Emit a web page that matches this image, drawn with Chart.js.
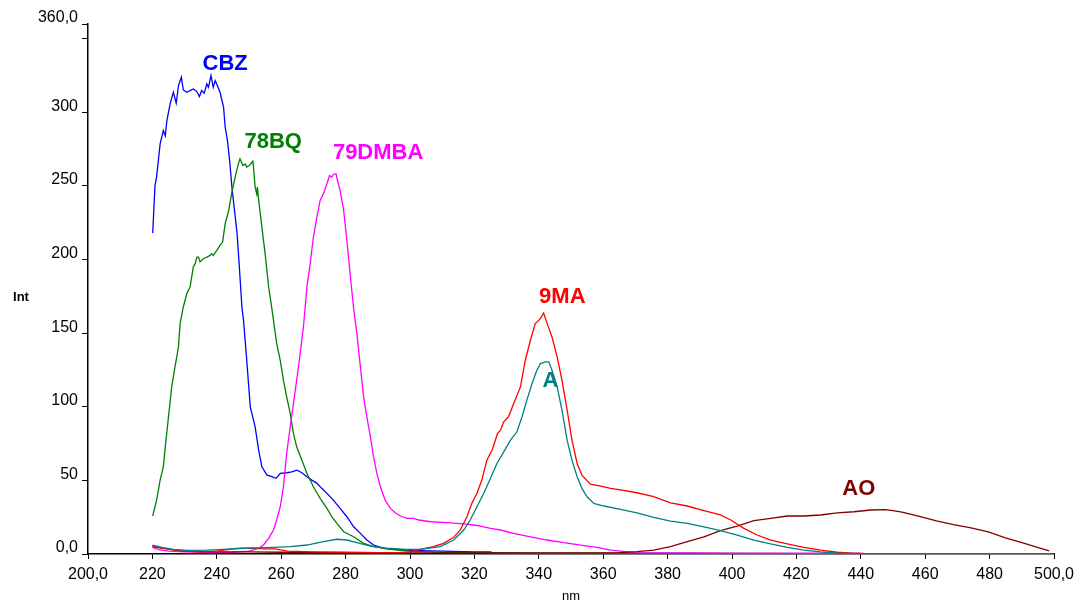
<!DOCTYPE html>
<html>
<head>
<meta charset="utf-8">
<script src="https://cdn.jsdelivr.net/npm/chart.js@4/dist/chart.umd.min.js"></script>
<style>
  html, body { margin: 0; padding: 0; background: #fff; }
  #wrap { width: 1077px; height: 604px; }
</style>
</head>
<body>
<div id="wrap"><canvas id="c" width="1077" height="604"></canvas></div>
<script>
// Emission spectra: [wavelength (nm), intensity]
const cbz = [[220.1,218],[220.8,250],[221.3,256],[222.4,278.6],[223.4,287.7],[224,284],[224.5,294.4],[225.5,305.8],[226.5,313.6],[227.4,306.2],[228.1,318.2],[229,323.8],[229.6,315.2],[230.7,313.6],[231.7,314.8],[232.7,315.9],[233.8,314.1],[234.6,310.7],[235.3,314.8],[236.1,313],[236.9,319.3],[237.4,317],[238.2,325],[238.9,317],[239.5,321.5],[240.2,318],[241,313.6],[242.1,303.5],[242.6,290],[243.3,281],[244,267],[244.7,249],[245.5,233.4],[246.3,217.6],[247,195],[247.8,167.8],[248.3,158.7],[249.3,131.6],[250.4,100],[251.9,86.4],[253,70.6],[254,59.2],[255.6,53.6],[257.1,52.5],[258.4,51.4],[259.7,54.7],[261.8,55.2],[263.3,55.8],[264.9,57],[266.4,55.2],[268,52.5],[269.5,50.2],[271.1,48],[272.6,44.6],[274.2,41.2],[276.2,36.6],[278.3,31],[280.4,25.3],[282.5,18.5],[284.6,14],[286.6,9.5],[288.7,6.1],[291.8,3.8],[294.9,3.2],[300,2.5],[310,2],[320,1.5],[325,1.5],[326,0.5],[340,0.3],[400,0.2],[500,0.2]];

const bq78 = [[220.1,25.8],[221.3,36.6],[222.4,50.2],[223.4,59.2],[224,72.8],[225,93.2],[226,113.5],[227,127],[228.1,140.6],[228.6,156.5],[229.6,167.8],[230.7,176.9],[231.7,181.4],[232.7,195],[233.3,197.2],[233.8,201.7],[234.3,201.7],[234.8,198.4],[235.8,200.6],[236.9,201.7],[237.9,202.8],[238.4,204],[238.9,202.8],[240,206.2],[241,209.6],[241.8,211.9],[242.6,224.4],[243.6,232.3],[244.6,244.7],[245.7,256],[246.7,265],[247.2,268.4],[248.1,263.9],[248.8,265],[249.3,262.8],[250.1,263.9],[251.2,266.8],[251.4,262.8],[251.9,249.2],[252.4,244.7],[252.6,249.2],[252.9,242.4],[254,222],[255,204],[256.1,181.4],[257.1,166.7],[257.6,158.7],[258.6,143],[259.7,131.6],[260.7,118],[261.7,106.7],[262.8,95.5],[263.8,81.9],[264.8,72.8],[266.4,63.8],[268,54.7],[270,45.7],[272.1,37.8],[274.2,31],[275.7,25.3],[277.3,20.8],[279.4,15.1],[282.5,11.7],[285.6,7.2],[288.7,5],[293.9,3.2],[300,2],[310,1.2],[325,0.8],[340,0.5],[380,0.5],[420,0.3],[500,0.3]];

const dmba79 = [[220,4.5],[222,3],[225,2],[230,1.5],[235,1.2],[240,1],[245,1.2],[250,2],[253,3.9],[254.5,6.1],[256.1,10.6],[257.6,16.3],[258.6,23.1],[259.7,32.1],[260.7,45.7],[261.7,68.3],[262.8,86.4],[263.8,102.2],[264.8,118],[265.9,136.2],[266.9,154.2],[268,181.4],[269,197.2],[270,215.3],[271.1,228.9],[272.1,240.2],[273.1,244.7],[274.2,251.5],[275,257.1],[275.7,256],[276.2,257.8],[277,258.3],[277.5,253.7],[278.3,247],[279.4,233.4],[280.4,213],[281.4,190.4],[282.5,166.7],[283.5,149.7],[284.6,127],[285.6,106.7],[286.6,93.2],[287.7,79.6],[288.7,66],[289.7,54.7],[290.8,45.7],[292.3,36.6],[293.9,31],[295.4,28],[297,25.8],[299.1,24.2],[301.2,24.2],[302.7,23.1],[306.3,21.9],[311.5,21.3],[316.7,20.4],[319.8,19.7],[321.9,19],[325,17.4],[328.1,16.3],[332.2,14],[337.4,11.7],[342.6,9.5],[347.7,7.7],[353,6.1],[358.1,4.5],[362.3,2.7],[365.4,2],[370,1],[400,0.6],[440,0.5]];

const ma9 = [[220,5.5],[223,4],[226,3],[230,2],[235,1.5],[240,2],[245,3.5],[250,4],[255,3.5],[258,3.5],[262,2],[270,1.5],[280,1.2],[290,1],[296,1],[300,1.5],[303.2,3.2],[307.3,5],[310.4,7.2],[313.6,11.3],[315.6,16.3],[317.7,25.3],[319.2,34.4],[320.8,41.2],[322.3,50.2],[323.9,63.8],[325.5,70.6],[327.2,81.9],[328.1,84.1],[329.1,89.8],[330.6,93.2],[332.2,102.2],[334.3,113.5],[335.8,131.6],[337.4,145.2],[338.9,156.5],[340.5,159.9],[341.5,163.7],[342.6,156.5],[344.1,147.4],[345.7,133.9],[347.2,118],[348.8,97.7],[350.3,77.3],[351.9,61.5],[353.4,53.6],[356,47.5],[359.2,46.1],[362.3,44.6],[365.4,43.6],[370.5,41.6],[375.7,38.9],[380.9,34.8],[386.1,32.6],[391.3,29.4],[396.4,26.5],[399.6,23.1],[403.7,17.4],[407.8,12.9],[412,9.5],[417.2,6.8],[422.3,4.5],[427.5,2.7],[432.7,1.2],[437,0.6],[441,0.4]];

const a = [[220,6],[223,4.5],[226.5,3.2],[231,2.5],[236.9,2.7],[242,3.2],[247.2,3.9],[252,4.2],[257.6,4.5],[262.8,5],[268,6.1],[273.1,8.4],[277.3,10],[280.4,9.5],[283.5,7.7],[287.7,5.4],[292.8,3.9],[299,3.2],[303.2,3.2],[309.4,5],[313.6,9.5],[316.7,16.3],[318.7,23.1],[320.8,32.1],[322.9,41.2],[325,51.4],[327,61.5],[329.1,69.4],[331.2,77.3],[333.2,83],[334.8,93.2],[336.3,104.5],[337.9,115.8],[339.4,124.8],[340.5,129.3],[342.1,130.5],[343.1,130.5],[344.1,124.8],[345.7,113.5],[347.2,97.7],[348.8,77.3],[350.3,63.8],[351.9,52.5],[353.4,44.6],[355,38.9],[357.1,34.4],[360.2,32.6],[365.4,30.3],[370.5,28],[375.7,24.9],[380.9,22.4],[386.1,20.8],[391.3,18.5],[396.4,15.8],[401.6,12.9],[406.8,9.5],[412,6.8],[417.2,4.5],[422.3,2.7],[427.5,1.4],[432.7,0.5],[440,0.3],[460,0.3],[480,0.3],[499,0.3]];

const ao = [[220,5],[223,4],[226,3],[230,2],[240,1.5],[250,1.5],[260,1.2],[280,1],[300,0.8],[320,0.8],[340,0.7],[360,0.8],[365,1],[370.5,1.6],[375.7,2.7],[380.9,5],[386.1,8.4],[391.3,11.7],[396.4,15.8],[401.6,19],[406.8,22.6],[412,24.2],[417.2,25.8],[422.3,25.8],[427.5,26.5],[432.7,28],[437.9,28.7],[443.1,29.9],[447.5,30.2],[450,29.5],[452.8,28.5],[458.2,25.5],[463.5,22.5],[468.8,20],[474.2,17.8],[479.6,15],[484.9,11],[490.3,7.5],[495.6,4],[498.5,2.2]];

const xTickValues = [200,220,240,260,280,300,320,340,360,380,400,420,440,460,480,500];
const yTickValues = [0,50,100,150,200,250,300,350,360];

// Series drawn in this order; the first one ends up on top.
const series = [
  { name: 'A',      points: a,      color: '#008080', tag: [343.6, 117.4] },
  { name: '9MA',    points: ma9,    color: '#ff0000', tag: [347.3, 174.4] },
  { name: 'AO',     points: ao,     color: '#800000', tag: [439.4, 44] },
  { name: '79DMBA', points: dmba79, color: '#ff00ff', tag: [290.1, 272.7] },
  { name: '78BQ',   points: bq78,   color: '#008000', tag: [257.5, 280] },
  { name: 'CBZ',    points: cbz,    color: '#0000ff', tag: [242.6, 333] }
];

const fmtX = v => (v === 200 || v === 500) ? v + ',0' : String(v);
const fmtY = v => v === 0 ? '0,0' : v === 360 ? '360,0' : v === 350 ? '' : String(v);

const tickFont = { family: '"Liberation Sans", Arial, sans-serif', size: 16 };

// Curve names and the "Int" axis caption
const captions = {
  id: 'captions',
  afterDatasetsDraw(chart) {
    const ctx = chart.ctx, xs = chart.scales.x, ys = chart.scales.y;
    ctx.save();
    ctx.textAlign = 'center';
    ctx.textBaseline = 'middle';
    ctx.font = 'bold 22px "Liberation Sans", Arial, sans-serif';
    series.forEach(s => {
      ctx.fillStyle = s.color;
      ctx.fillText(s.name, xs.getPixelForValue(s.tag[0]), ys.getPixelForValue(s.tag[1]));
    });
    ctx.fillStyle = '#000';
    ctx.font = 'bold 13px "Liberation Sans", Arial, sans-serif';
    ctx.fillText('Int', 21, 297);
    ctx.restore();
  }
};

new Chart(document.getElementById('c'), {
  type: 'line',
  data: {
    datasets: series.map(s => ({
      label: s.name,
      data: s.points.map(p => ({ x: p[0], y: p[1] })),
      borderColor: s.color,
      backgroundColor: s.color,
      borderWidth: 1.3,
      pointRadius: 0,
      tension: 0,
      fill: false
    }))
  },
  options: {
    responsive: false,
    animation: false,
    devicePixelRatio: 1,
    layout: { padding: { top: 24, right: 23, left: 0, bottom: 0 } },
    plugins: { legend: { display: false }, tooltip: { enabled: false } },
    scales: {
      x: {
        type: 'linear', min: 200, max: 500,
        afterBuildTicks: s => { s.ticks = xTickValues.map(v => ({ value: v })); },
        afterFit: s => { s.height = 50; s.paddingLeft = 0; s.paddingRight = 0; },
        ticks: {
          callback: v => fmtX(v), autoSkip: false, maxRotation: 0, padding: 6,
          color: '#000', font: tickFont
        },
        grid: { drawOnChartArea: false, drawTicks: true, tickLength: 5, color: '#000', lineWidth: 1 },
        border: { display: true, color: '#000', width: 1.5 },
        title: {
          display: true, text: 'nm', color: '#000',
          font: { family: '"Liberation Sans", Arial, sans-serif', size: 13 },
          padding: { top: 0, bottom: 0 }
        }
      },
      y: {
        type: 'linear', min: 0, max: 360,
        afterBuildTicks: s => { s.ticks = yTickValues.map(v => ({ value: v })); },
        afterFit: s => { s.width = 88; s.paddingTop = 0; s.paddingBottom = 0; },
        ticks: {
          callback: v => fmtY(v), autoSkip: false, padding: 4, labelOffset: -6,
          color: '#000', font: tickFont
        },
        grid: { drawOnChartArea: false, drawTicks: true, tickLength: 6, color: '#000', lineWidth: 1 },
        border: { display: true, color: '#000', width: 1.5 }
      }
    }
  },
  plugins: [captions]
});
</script>
</body>
</html>
